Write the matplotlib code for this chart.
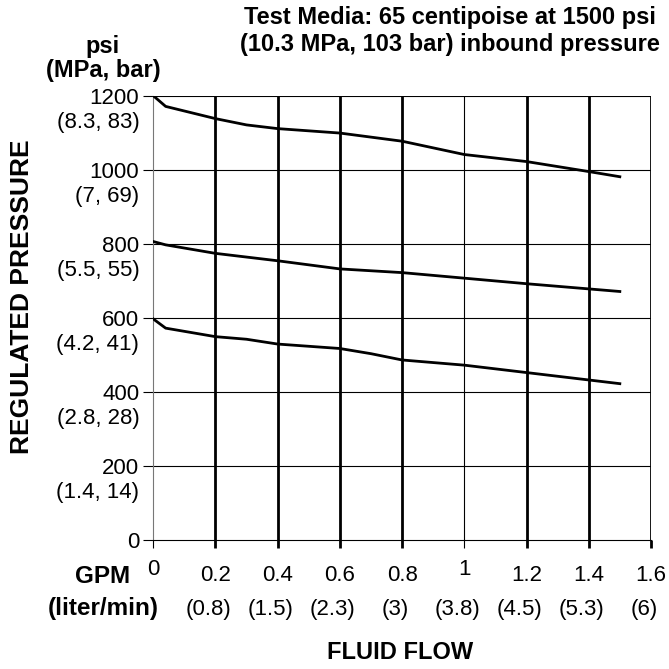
import numpy as np
import matplotlib
matplotlib.use("Agg")
import matplotlib.pyplot as plt
from matplotlib import transforms

plt.rcParams['font.family'] = ['Liberation Sans', 'DejaVu Sans']

# fluid flow (GPM) and regulated pressure (psi)
flow_gpm = [0, 0.04, 0.2, 0.3, 0.4, 0.6, 0.7, 0.8, 1.0, 1.2, 1.4, 1.5]
p_set_1200 = [1200, 1171, 1138, 1121, 1111, 1099, 1088, 1077, 1041, 1022, 995, 981]
p_set_800 = [806, 797, 774, 764, 754, 732, 727, 722, 707, 692, 678, 671]
p_set_600 = [597, 572, 549, 542, 529, 517, 503, 486, 472, 452, 432, 422]

y_ticks = [0, 200, 400, 600, 800, 1000, 1200]
y_metric = ['', '(1.4, 14)', '(2.8, 28)', '(4.2, 41)', '(5.5, 55)', '(7, 69)', '(8.3, 83)']
x_ticks = [0, 0.2, 0.4, 0.6, 0.8, 1.0, 1.2, 1.4, 1.6]
x_labels = ['0', '0.2', '0.4', '0.6', '0.8', '1', '1.2', '1.4', '1.6']
x_metric = ['', '(0.8)', '(1.5)', '(2.3)', '(3)', '(3.8)', '(4.5)', '(5.3)', '(6)']

fig = plt.figure(figsize=(6.69, 6.69), dpi=100)
ax = fig.add_axes([0.229, 0.193, 0.744, 0.664])
ax.set_xlim(0, 1.6)
ax.set_ylim(0, 1200)

# grid: thin horizontals, heavy verticals (1 GPM is thin)
for y in y_ticks[1:]:
    ax.axhline(y, color='black', lw=0.8, zorder=1)
for x in x_ticks[1:]:
    thick = abs(x - 1.0) > 1e-9
    ax.axvline(x, color='black', lw=2.0 if thick else 0.8, zorder=1)

for p in (p_set_1200, p_set_800, p_set_600):
    ax.plot(flow_gpm, p, color='black', lw=2.0, zorder=3)

for s in ['top', 'right']:
    ax.spines[s].set_visible(False)
ax.spines['left'].set_color('#777777')
ax.spines['left'].set_linewidth(0.8)
ax.spines['bottom'].set_linewidth(0.8)

ax.set_yticks(y_ticks)
ax.set_yticklabels([str(v) for v in y_ticks])
ax.tick_params(axis='y', length=7, width=0.8, pad=3, labelsize=16)
ax.set_xticks(x_ticks)
ax.set_xticklabels(x_labels)
ax.tick_params(axis='x', length=6, width=0.8, pad=12, labelsize=16)
for tl, lab in zip(ax.get_xticklines()[::2], x_labels):
    if lab not in ('0', '1'):
        tl.set_markeredgewidth(2.0)
for lab in ax.get_xticklabels():
    if lab.get_text() in ('0', '1'):
        lab.set_transform(lab.get_transform() + transforms.ScaledTranslation(0, 4 / 72, fig.dpi_scale_trans))

for y, m in zip(y_ticks, y_metric):
    if m:
        ax.annotate(m, xy=(0, y), xytext=(-10, -19), textcoords='offset points',
                    ha='right', va='center', fontsize=16)
for x, m in zip(x_ticks, x_metric):
    if m:
        ax.annotate(m, xy=(x, 0), xytext=(-5, -50), textcoords='offset points',
                    ha='center', va='center', fontsize=16)

fig.text(0.673, 0.974, 'Test Media: 65 centipoise at 1500 psi', ha='center', va='center',
         fontsize=17, fontweight='bold')
fig.text(0.673, 0.934, '(10.3 MPa, 103 bar) inbound pressure', ha='center', va='center',
         fontsize=17, fontweight='bold')
fig.text(0.154, 0.930, 'psi', ha='center', va='center', fontsize=17, fontweight='bold')
fig.text(0.154, 0.895, '(MPa, bar)', ha='center', va='center', fontsize=17, fontweight='bold')
fig.text(0.154, 0.138, 'GPM', ha='center', va='center', fontsize=17.5, fontweight='bold')
fig.text(0.154, 0.091, '(liter/min)', ha='center', va='center', fontsize=17.5, fontweight='bold')
fig.text(0.598, 0.024, 'FLUID FLOW', ha='center', va='center', fontsize=17, fontweight='bold')
fig.text(0.033, 0.556, 'REGULATED PRESSURE', ha='center', va='center', rotation=90,
         fontsize=19, fontweight='bold')

fig.savefig('out.png', dpi=100)
